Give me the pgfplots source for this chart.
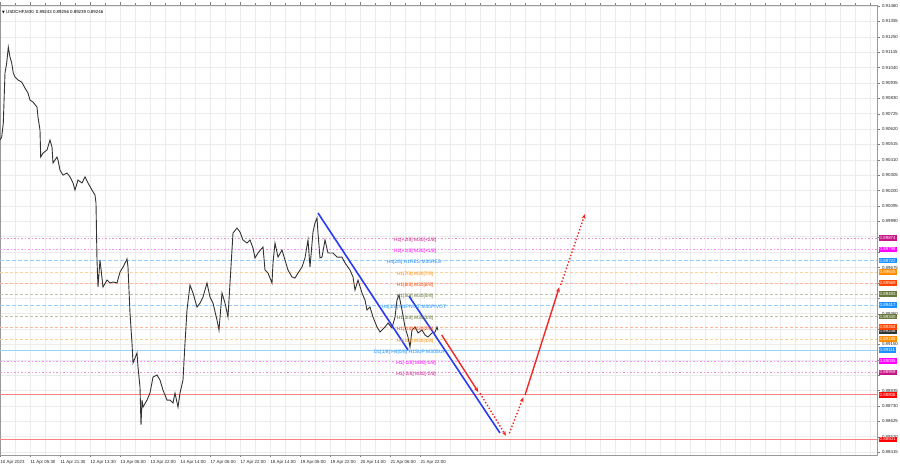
\documentclass[border=0pt]{standalone}
\usepackage{fontspec}
\setmainfont{Liberation Sans}
\newfontfamily\dejavu{DejaVu Sans}
\usepackage{pgfplots}
\pgfplotsset{compat=1.18}
\usetikzlibrary{arrows.meta}
\definecolor{mvr}{HTML}{C71585}
\definecolor{mag}{HTML}{FF00FF}
\definecolor{dblue}{HTML}{1E90FF}
\definecolor{dorange}{HTML}{FF8C00}
\definecolor{ored}{HTML}{FF4500}
\definecolor{olv}{HTML}{66783A}
\definecolor{lblue}{HTML}{9AD4FA}
\definecolor{lred}{HTML}{FF8080}
\definecolor{gridc}{HTML}{ECECEC}
\definecolor{chanblue}{HTML}{2A3CF0}
\definecolor{arrred}{HTML}{F02828}
\begin{document}
\begin{tikzpicture}
\begin{axis}[
  name=ax,
  scale only axis, width=877pt, height=450pt,
  xmin=0, xmax=877, ymin=0.88395, ymax=0.91467,
  clip=false,
  axis line style={black!40},
  tick style={black!50},
  tick align=outside,
  major tick length=2.5pt, minor tick length=1.5pt,
  xtick={0,30,...,420},
  xticklabels={10 Apr 2023,11 Apr 05:30,11 Apr 21:30,12 Apr 13:30,13 Apr 06:00,13 Apr 22:00,14 Apr 14:00,17 Apr 06:00,17 Apr 22:00,18 Apr 14:00,19 Apr 06:00,19 Apr 22:00,20 Apr 14:00,21 Apr 06:00,21 Apr 22:00},
  minor xtick={0,15,...,870},
  xminorgrids=true, xmajorgrids=false,
  ytick={0.88415,0.88520,0.88625,0.88730,0.88835,0.88940,0.89045,0.89150,0.89255,0.89360,0.89465,0.89570,0.89675,0.89780,0.89885,0.89990,0.90095,0.90200,0.90305,0.90410,0.90515,0.90620,0.90725,0.90830,0.90935,0.91040,0.91145,0.91250,0.91355,0.91460},
  yticklabels={0.88415,0.88520,0.88625,0.88730,0.88835,,,0.89150,,0.89360,,,0.89675,,,0.89990,0.90095,0.90200,0.90305,0.90410,0.90515,0.90620,0.90725,0.90830,0.90935,0.91040,0.91145,0.91250,0.91355,0.91460},
  ymajorgrids=true,
  grid style={gridc, line width=0.5pt},
  minor grid style={gridc, line width=0.5pt},
  yticklabel pos=right,
  ticklabel style={font=\fontsize{4.4}{5}\selectfont, text=black!85},
  yticklabel style={anchor=west, xshift=-1pt},
  xticklabel style={anchor=north west, xshift=-3pt, yshift=1pt},
]
% ---- level lines ----
\addplot[mvr!45, line width=0.6pt, dash pattern=on 1.5pt off 2pt] coordinates {(0,0.89874)(877,0.89874)};
\addplot[mag!45, line width=0.6pt, dash pattern=on 1.5pt off 2pt] coordinates {(0,0.89798)(877,0.89798)};
\addplot[dblue!45, line width=0.6pt, dash pattern=on 4pt off 2pt] coordinates {(0,0.89722)(877,0.89722)};
\addplot[dorange!40, line width=0.6pt, dash pattern=on 3pt off 2pt] coordinates {(0,0.89645)(877,0.89645)};
\addplot[ored!40, line width=0.6pt, dash pattern=on 3pt off 2pt] coordinates {(0,0.89569)(877,0.89569)};
\addplot[olv!45, line width=0.6pt, dash pattern=on 3pt off 2pt] coordinates {(0,0.89493)(877,0.89493)};
\addplot[dblue!45, line width=0.6pt, dash pattern=on 4pt off 2pt] coordinates {(0,0.89417)(877,0.89417)};
\addplot[olv!45, line width=0.6pt, dash pattern=on 3pt off 2pt] coordinates {(0,0.89340)(877,0.89340)};
\addplot[ored!40, line width=0.6pt, dash pattern=on 3pt off 2pt] coordinates {(0,0.89264)(877,0.89264)};
\addplot[dorange!40, line width=0.6pt, dash pattern=on 3pt off 2pt] coordinates {(0,0.89188)(877,0.89188)};
\addplot[lblue, line width=0.7pt] coordinates {(0,0.89111)(877,0.89111)};
\addplot[mag!45, line width=0.6pt, dash pattern=on 1.5pt off 2pt] coordinates {(0,0.89035)(877,0.89035)};
\addplot[mvr!45, line width=0.6pt, dash pattern=on 1.5pt off 2pt] coordinates {(0,0.88959)(877,0.88959)};
\addplot[lred, line width=0.7pt] coordinates {(0,0.88806)(877,0.88806)};
\addplot[lred, line width=0.7pt] coordinates {(0,0.88501)(877,0.88501)};
% ---- price ----
\addplot[black!80, line width=0.9pt] coordinates {
(0,0.90545)(1.7,0.90566)(3.3,0.90661)(5,0.91003)(6.7,0.91071)(8.3,0.91180)(10,0.91112)(11.7,0.91071)
(13.3,0.91003)(15,0.90975)(18,0.90955)(21.7,0.90941)(25,0.90900)(28,0.90866)(30,0.90818)(33,0.90805)
(37,0.90770)(38,0.90702)(40,0.90613)(40.7,0.90429)(43,0.90456)(47,0.90477)(50,0.90545)(52,0.90497)
(53,0.90388)(57,0.90429)(58,0.90409)(60,0.90340)(63,0.90306)(67,0.90320)(70,0.90293)(73,0.90252)
(75,0.90204)(78,0.90272)(82,0.90252)(85,0.90293)(88,0.90252)(92,0.90204)(95,0.90170)(96,0.90115)
(97,0.89726)(98,0.89542)(100,0.89726)(103,0.89542)(107,0.89589)(110,0.89569)(113,0.89576)(117,0.89569)
(120,0.89644)(123,0.89678)(127,0.89733)(128,0.89678)(130,0.89364)(132,0.89159)(133,0.89023)(137,0.89091)
(138,0.88996)(140,0.88859)(141,0.88600)(142,0.88770)(143,0.88722)(147,0.88770)(150,0.88818)(153,0.88927)
(157,0.88941)(160,0.88907)(163,0.88838)(167,0.88770)(170,0.88770)(173,0.88750)(175,0.88818)(178,0.88722)
(180,0.88818)(183,0.88907)(185,0.89159)(187,0.89385)(190,0.89555)(193,0.89501)(197,0.89405)(200,0.89432)
(203,0.89473)(207,0.89569)(210,0.89473)(213,0.89432)(217,0.89316)(219,0.89248)(222,0.89501)(225,0.89432)
(228,0.89337)(230,0.89569)(233,0.89910)(237,0.89944)(240,0.89917)(243,0.89863)(247,0.89842)(250,0.89863)
(253,0.89808)(255,0.89740)(258,0.89774)(263,0.89815)(265,0.89658)(268,0.89637)(272,0.89569)(273,0.89706)
(275,0.89842)(278,0.89746)(282,0.89794)(285,0.89726)(288,0.89658)(292,0.89610)(295,0.89603)(298,0.89637)
(302,0.89678)(305,0.89740)(308,0.89863)(310,0.89678)(313,0.89917)(315,0.89979)(317,0.90013)(318,0.89910)
(320,0.89740)(322,0.89746)(325,0.89863)(328,0.89774)(333,0.89774)(337,0.89746)(342,0.89746)(345,0.89706)
(350,0.89658)(353,0.89610)(355,0.89521)(358,0.89589)(362,0.89501)(365,0.89453)(367,0.89385)(370,0.89405)
(373,0.89337)(377,0.89269)(380,0.89234)(385,0.89269)(388,0.89296)(392,0.89262)(395,0.89337)(397,0.89453)
(399,0.89487)(402,0.89385)(405,0.89269)(408,0.89200)(410,0.89132)(412,0.89248)(415,0.89269)(418,0.89228)
(422,0.89248)(425,0.89214)(428,0.89200)(432,0.89228)(435,0.89234)(437,0.89269)(438,0.89246)
};
% ---- channel lines ----
\addplot[chanblue, line width=1.6pt] coordinates {(318,0.90047)(408,0.89112)};
\addplot[chanblue, line width=1.6pt] coordinates {(409,0.89480)(500,0.88545)};
% ---- forecast arrows ----
\addplot[arrred, line width=1.4pt, -{Stealth[length=5pt,width=4pt]}] coordinates {(441.7,0.89214)(478.3,0.88825)};
\addplot[arrred, line width=1.4pt, dash pattern=on 1.4pt off 2pt, -{Stealth[length=5pt,width=4pt]}] coordinates {(480,0.88816)(506,0.88526)};
\addplot[arrred, line width=1.4pt, dash pattern=on 1.4pt off 2pt, -{Stealth[length=5pt,width=4pt]}] coordinates {(509.3,0.88543)(523.3,0.88789)};
\addplot[arrred, line width=1.4pt, -{Stealth[length=5pt,width=4pt]}] coordinates {(525,0.88804)(559.3,0.89540)};
\addplot[arrred, line width=1.4pt, dash pattern=on 1.4pt off 2pt, -{Stealth[length=5pt,width=4pt]}] coordinates {(560.7,0.89555)(585,0.90040)};
% ---- level labels ----
\begin{scope}[every node/.style={font=\fontsize{4.9}{5.5}\selectfont, yshift=-2pt}]
\node[text=mvr] at (axis cs:415,0.89874) {H1[+2/8] M30[+2/8]};
\node[text=mag] at (axis cs:415,0.89798) {H1[+1/8] M30[+1/8]};
\node[text=dblue] at (axis cs:414,0.89722) {H4[2/8] H1RES M30RES};
\node[text=dorange] at (axis cs:415,0.89645) {H1[7/8] M30[7/8]};
\node[text=ored] at (axis cs:415,0.89569) {H1[6/8] M30[6/8]};
\node[text=olv] at (axis cs:415,0.89493) {H1[5/8] M30[5/8]};
\node[text=dblue] at (axis cs:414,0.89417) {H4[1/8] H1PIVOT M30PIVOT};
\node[text=olv] at (axis cs:415,0.89340) {H1[3/8] M30[3/8]};
\node[text=ored] at (axis cs:415,0.89264) {H1[2/8] M30[2/8]};
\node[text=dorange] at (axis cs:415,0.89188) {H1[1/8] M30[1/8]};
\node[text=dblue] at (axis cs:410,0.89111) {D1[1/8] H4[0/8] H1SUP M30SUP};
\node[text=mag] at (axis cs:416,0.89035) {H1[-1/8] M30[-1/8]};
\node[text=mvr] at (axis cs:416,0.88959) {H1[-2/8] M30[-2/8]};
\end{scope}
% ---- right price boxes ----
\begin{scope}[every node/.style={font=\fontsize{4.4}{5}\selectfont, text=white, anchor=west, inner xsep=1pt, inner ysep=1.3pt, xshift=1.5pt}]
\node[fill=mvr] at (axis cs:877,0.89874) {0.89874};
\node[fill=mag] at (axis cs:877,0.89798) {0.89798};
\node[fill=dblue] at (axis cs:877,0.89722) {0.89722};
\node[fill=dorange] at (axis cs:877,0.89645) {0.89645};
\node[fill=ored] at (axis cs:877,0.89569) {0.89569};
\node[fill=olv] at (axis cs:877,0.89493) {0.89493};
\node[fill=dblue] at (axis cs:877,0.89417) {0.89417};
\node[fill=olv] at (axis cs:877,0.89340) {0.89340};
\node[fill=black!80, yshift=-1pt] at (axis cs:877,0.89246) {0.89246};
\node[fill=ored, yshift=0.5pt] at (axis cs:877,0.89264) {0.89264};
\node[fill=dorange] at (axis cs:877,0.89188) {0.89188};
\node[fill=dblue] at (axis cs:877,0.89111) {0.89111};
\node[fill=mag] at (axis cs:877,0.89035) {0.89035};
\node[fill=mvr] at (axis cs:877,0.88959) {0.88959};
\node[fill=red] at (axis cs:877,0.88806) {0.88806};
\node[fill=red] at (axis cs:877,0.88501) {0.88501};
\end{scope}
% ---- title ----
\node[anchor=north west, font=\fontsize{4.4}{5}\selectfont, inner sep=0pt] at ([xshift=2pt,yshift=-5pt]rel axis cs:0,1) {{\dejavu\fontsize{3.5}{4}\selectfont ▼} USDCHF,M30\enspace 0.89243 0.89256 0.89239 0.89246};
\end{axis}
\pgfresetboundingbox
\useasboundingbox ([yshift=-13pt]ax.south west) rectangle ([xshift=23pt,yshift=5pt]ax.north east);
\end{tikzpicture}
\end{document}
